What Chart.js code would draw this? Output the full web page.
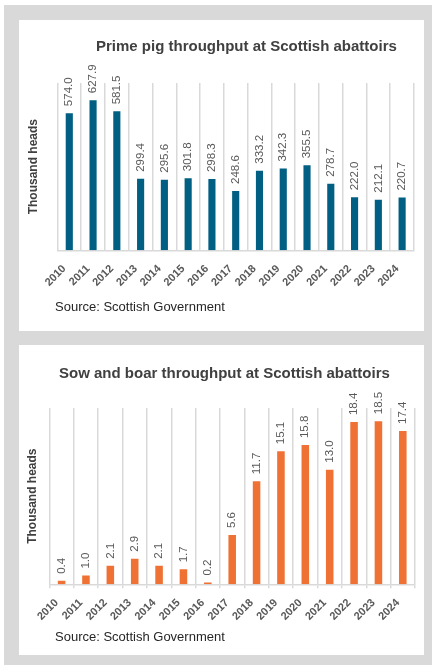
<!DOCTYPE html>
<html lang="en">
<head>
    <meta charset="UTF-8">
    <title>Pig throughput at Scottish abattoirs</title>
    <script src="https://cdn.jsdelivr.net/npm/chart.js"></script>
    <style>
        body {
            margin: 0;
            padding: 0;
            background-color: #ffffff;
            font-family: 'Liberation Sans', Arial, sans-serif;
        }
        #frame {
            position: absolute;
            left: 4px;
            top: 5px;
            width: 428px;
            height: 660px;
            background-color: #d9d9d9;
        }
        .panel {
            position: absolute;
            left: 19px;
            width: 405px;
            background-color: #ffffff;
        }
        .panel canvas {
            position: absolute;
            left: 0;
            top: 0;
        }
        .chart-title {
            position: absolute;
            font-size: 15px;
            line-height: 15px;
            font-weight: bold;
            color: #404040;
            white-space: nowrap;
        }
        .source {
            position: absolute;
            left: 36px;
            font-size: 13px;
            line-height: 13px;
            color: #262626;
            white-space: nowrap;
        }
    </style>
</head>
<body>

    <div id="frame"></div>

    <div class="panel" style="top: 20px; height: 311px;">
        <canvas id="primeChart" width="405" height="311"></canvas>
        <div class="chart-title" style="left: 77px; top: 18px;">Prime pig throughput at Scottish abattoirs</div>
        <div class="source" style="top: 280px;">Source: Scottish Government</div>
    </div>

    <div class="panel" style="top: 345px; height: 310px;">
        <canvas id="sowChart" width="405" height="310"></canvas>
        <div class="chart-title" style="left: 40px; top: 20px;">Sow and boar throughput at Scottish abattoirs</div>
        <div class="source" style="top: 285px;">Source: Scottish Government</div>
    </div>

    <script>
        // Data (thousand heads)
        var years = ['2010', '2011', '2012', '2013', '2014', '2015', '2016', '2017',
                     '2018', '2019', '2020', '2021', '2022', '2023', '2024'];
        var primePigs = [574.0, 627.9, 581.5, 299.4, 295.6, 301.8, 298.3, 248.6,
                         333.2, 342.3, 355.5, 278.7, 222.0, 212.1, 220.7];
        var sowsBoars = [0.4, 1.0, 2.1, 2.9, 2.1, 1.7, 0.2, 5.6,
                         11.7, 15.1, 15.8, 13.0, 18.4, 18.5, 17.4];
        var yTitle = 'Thousand heads';

        Chart.defaults.font.family = "'Liberation Sans', Arial, sans-serif";
        Chart.defaults.animation = false;

        // Rotated value labels above each bar
        var valueLabels = {
            id: 'valueLabels',
            afterDatasetsDraw: function (chart, args, opts) {
                var ctx = chart.ctx;
                var values = chart.data.datasets[0].data;
                ctx.save();
                ctx.font = opts.font;
                ctx.fillStyle = opts.color;
                ctx.textAlign = 'left';
                ctx.textBaseline = 'middle';
                chart.getDatasetMeta(0).data.forEach(function (bar, i) {
                    ctx.save();
                    ctx.translate(bar.x, bar.y - opts.offset);
                    ctx.rotate(-Math.PI / 2);
                    ctx.fillText(values[i].toFixed(1), 0, 0);
                    ctx.restore();
                });
                ctx.restore();
            }
        };

        function makeChart(id, values, color, s) {
            var ctx = document.getElementById(id).getContext('2d');
            return new Chart(ctx, {
                type: 'bar',
                data: {
                    labels: years,
                    datasets: [{
                        data: values,
                        backgroundColor: color,
                        barPercentage: s.barPct,
                        categoryPercentage: 1
                    }]
                },
                plugins: [valueLabels],
                options: {
                    responsive: false,
                    layout: { padding: s.padding },
                    plugins: {
                        legend: { display: false },
                        tooltip: { enabled: false },
                        valueLabels: { font: '11.5px "Liberation Sans"', color: '#595959', offset: 7 }
                    },
                    scales: {
                        x: {
                            grid: {
                                color: '#d9d9d9',
                                lineWidth: 1.5,
                                drawTicks: s.drawTicks,
                                tickLength: 4
                            },
                            border: { color: '#d9d9d9', width: 1.5 },
                            ticks: {
                                minRotation: 45,
                                maxRotation: 45,
                                padding: s.tickPad,
                                labelOffset: -5,
                                color: '#595959',
                                font: { size: 11, weight: 'bold' }
                            }
                        },
                        y: {
                            min: 0,
                            max: s.max,
                            grid: { display: false },
                            border: { display: false },
                            ticks: { display: false },
                            title: {
                                display: true,
                                text: yTitle,
                                color: '#404040',
                                font: { size: 12, weight: 'bold' },
                                padding: s.titlePad
                            }
                        }
                    }
                }
            });
        }

        makeChart('primeChart', primePigs, '#005f83', {
            max: 700,
            barPct: 0.3,
            padding: { left: 0, right: 10, top: 63, bottom: 30 },
            drawTicks: false,
            tickPad: 12,
            titlePad: { top: 7, bottom: 9 }
        });

        makeChart('sowChart', sowsBoars, '#ef7234', {
            max: 20,
            barPct: 0.31,
            padding: { left: 0, right: 9, top: 63, bottom: 24 },
            drawTicks: true,
            tickPad: 8,
            titlePad: { top: 6.5, bottom: 1.5 }
        });
    </script>
</body>
</html>
